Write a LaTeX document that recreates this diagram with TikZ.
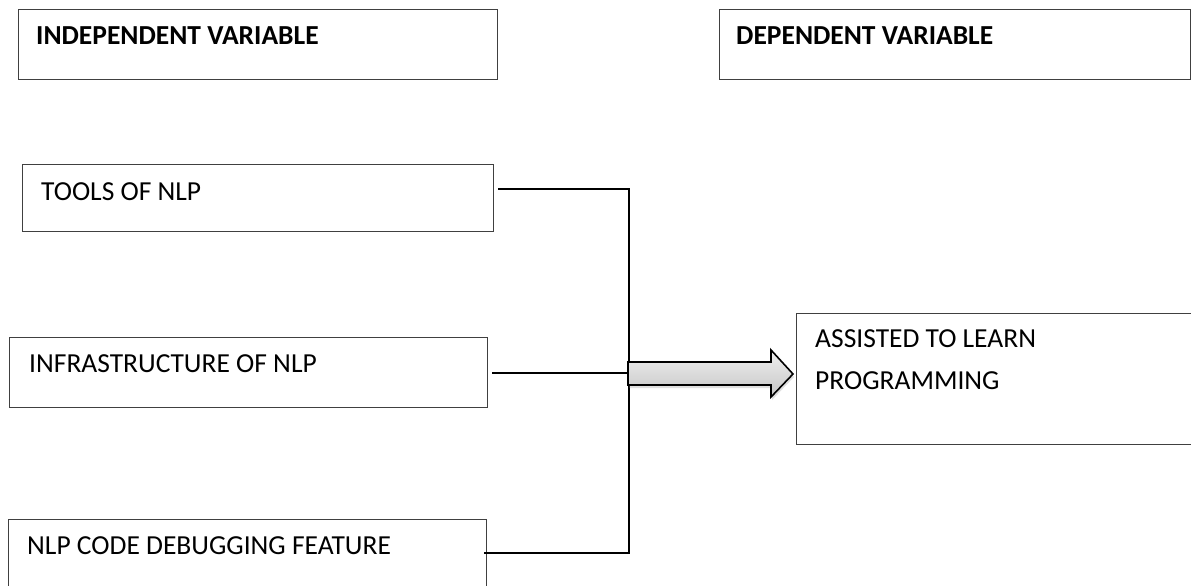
\documentclass[tikz,border=0pt]{standalone}
\usepackage{fontspec}
\setmainfont{Carlito}
\usetikzlibrary{shadows}
\begin{document}
\begin{tikzpicture}[x=1pt,y=-1pt,
  box/.style={draw=black!75, line width=1.2pt, anchor=north west, inner sep=0pt, minimum width=#1},
  box/.default=100,
  lbl/.style={anchor=base west, inner sep=0pt, font=\fontsize{27.5}{42}\selectfont},
  hdr/.style={lbl, font=\fontsize{27.5}{42}\selectfont\bfseries},
  conn/.style={draw=black, line width=2pt},
  bigarrow/.style={draw=black, line width=1.6pt, top color=gray!12, bottom color=gray!45,
    drop shadow={shadow xshift=1pt, shadow yshift=-3pt, opacity=0.25}}]
\useasboundingbox (0,0) rectangle (1191,586);
\clip (0,0) rectangle (1191,586);
% boxes
\node[box=479, minimum height=70] (indep) at (18,9) {};
\node[box=471, minimum height=70] (dep) at (719,9) {};
\node[box=471, minimum height=67] (tools) at (22,164) {};
\node[box=478, minimum height=70] (infra) at (9,337) {};
\node[box=478, minimum height=80] (nlp) at (8,519) {};
\node[box=420, minimum height=131] (assist) at (796,313) {};
% texts
\node[hdr] (tindep) at (36,45) {INDEPENDENT VARIABLE};
\node[hdr] (tdep) at (736,45) {DEPENDENT VARIABLE};
\node[lbl] (ttools) at (41,200) {TOOLS OF NLP};
\node[lbl] (tinfra) at (29,372) {INFRASTRUCTURE OF NLP};
\node[lbl] (tnlp) at (27,554) {NLP CODE DEBUGGING FEATURE};
\node[lbl, align=left] (tassist) at (815,389) {ASSISTED TO LEARN\\PROGRAMMING};
% connectors
\coordinate (bt) at (629,189);
\coordinate (bb) at (629,553);
\draw[conn] ([xshift=4]tools.east |- bt) -- (bt) -- (bb) -- ([xshift=-3]nlp.east |- bb);
\draw[conn] ([xshift=4]infra.east) -- (infra.east -| bt);
% big arrow
\path[bigarrow] (628,362) -- (771,362) -- (771,350) -- ([xshift=-3]assist.west |- 0,374) -- (771,397) -- (771,385) -- (628,385) -- cycle;
\end{tikzpicture}
\end{document}
